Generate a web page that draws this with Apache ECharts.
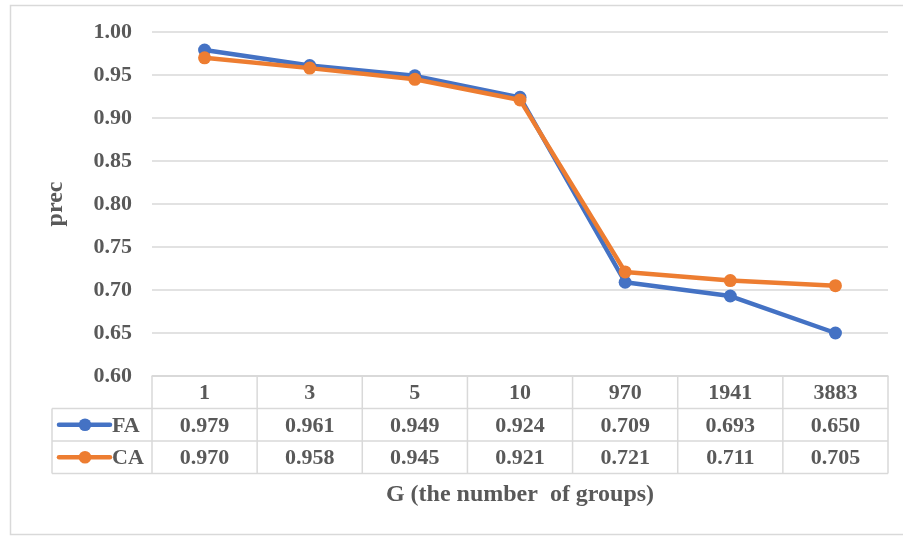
<!DOCTYPE html>
<html>
<head>
<meta charset="utf-8">
<script src="https://cdn.jsdelivr.net/npm/echarts@6/dist/echarts.min.js"></script>
<style>
  html, body { margin: 0; padding: 0; background: #ffffff; }
  #chart { width: 903px; height: 536px; }
</style>
</head>
<body>
<div id="chart"></div>
<script>
// Precision per number of groups G
const categories = ['1', '3', '5', '10', '970', '1941', '3883'];
const faValues = [0.979, 0.961, 0.949, 0.924, 0.709, 0.693, 0.650];
const caValues = [0.970, 0.958, 0.945, 0.921, 0.721, 0.711, 0.705];
const seriesNames = ['FA', 'CA'];
const seriesColors = ['#4472C4', '#ED7D31'];
const yMin = 0.60, yMax = 1.00, yStep = 0.05;

const FONT = '"Liberation Serif", "Times New Roman", serif';
const TEXT = '#595959';
const RULE = '#d9d9d9';

const chart = echarts.init(document.getElementById('chart'), null, { renderer: 'canvas' });

const gridBox = { left: 152, right: 15, top: 32, bottom: 160 };

chart.setOption({
  animation: false,
  backgroundColor: '#ffffff',
  grid: gridBox,
  xAxis: {
    type: 'category',
    data: categories,
    boundaryGap: true,
    axisLine: { show: true, lineStyle: { color: RULE, width: 1.5 } },
    axisTick: { show: false },
    axisLabel: { show: false },
    splitLine: { show: false }
  },
  yAxis: {
    type: 'value',
    min: yMin,
    max: yMax,
    interval: yStep,
    axisLine: { show: false },
    axisTick: { show: false },
    axisLabel: {
      margin: 20,
      formatter: v => v.toFixed(2),
      fontFamily: FONT, fontWeight: 'bold', fontSize: 22, color: TEXT
    },
    splitLine: { lineStyle: { color: RULE, width: 1.5 } }
  },
  series: [faValues, caValues].map((vals, i) => ({
    name: seriesNames[i],
    type: 'line',
    data: vals,
    symbol: 'circle',
    symbolSize: 13,
    lineStyle: { color: seriesColors[i], width: 4.5 },
    itemStyle: { color: seriesColors[i] },
    z: 2 + i
  }))
});

// Data table under the plot, aligned to the category bands
const x0 = chart.convertToPixel({ xAxisIndex: 0 }, 0);
const x1 = chart.convertToPixel({ xAxisIndex: 0 }, 1);
const band = x1 - x0;
const plotLeft = x0 - band / 2;
const plotRight = plotLeft + band * categories.length;
const tableTop = chart.convertToPixel({ yAxisIndex: 0 }, yMin);
const rowH = 32.5;
const keyLeft = 52;
const rows = [tableTop, tableTop + rowH, tableTop + rowH * 2, tableTop + rowH * 3];

const g = [];
const line = (xa, ya, xb, yb) => g.push({
  type: 'line', silent: true,
  shape: { x1: xa, y1: ya, x2: xb, y2: yb },
  style: { stroke: RULE, lineWidth: 1.5 }
});
const label = (x, y, text, align, size) => g.push({
  type: 'text', silent: true, x: x, y: y,
  style: {
    text: text, fill: TEXT, font: 'bold ' + (size || 22) + 'px ' + FONT,
    align: align || 'center', verticalAlign: 'middle'
  }
});

// outer chart frame
g.push({
  type: 'rect', silent: true,
  shape: { x: 10.5, y: 5.5, width: 910, height: 529 },
  style: { fill: 'none', stroke: RULE, lineWidth: 1.5 }
});

// horizontal rules
line(plotLeft, rows[0], plotRight, rows[0]);
line(keyLeft, rows[1], plotRight, rows[1]);
line(keyLeft, rows[2], plotRight, rows[2]);
line(keyLeft, rows[3], plotRight, rows[3]);
// vertical rules
line(keyLeft, rows[1], keyLeft, rows[3]);
for (let i = 0; i <= categories.length; i++) {
  line(plotLeft + band * i, rows[0], plotLeft + band * i, rows[3]);
}

// header row and value rows
categories.forEach((c, i) => {
  const cx = chart.convertToPixel({ xAxisIndex: 0 }, i);
  label(cx, (rows[0] + rows[1]) / 2 + 1.5, c);
  label(cx, (rows[1] + rows[2]) / 2 + 1.5, faValues[i].toFixed(3));
  label(cx, (rows[2] + rows[3]) / 2 + 1.5, caValues[i].toFixed(3));
});

// legend keys in the first column
[0, 1].forEach(i => {
  const cy = (rows[i + 1] + rows[i + 2]) / 2;
  g.push({
    type: 'line', silent: true,
    shape: { x1: 59, y1: cy, x2: 110, y2: cy },
    style: { stroke: seriesColors[i], lineWidth: 4.5, lineCap: 'round' }
  });
  g.push({
    type: 'circle', silent: true,
    shape: { cx: 85, cy: cy, r: 6.3 },
    style: { fill: seriesColors[i] }
  });
  label(112, cy + 1.5, seriesNames[i], 'left');
});

// axis titles
label((plotLeft + plotRight) / 2, 495, 'G (the number  of groups)', 'center', 24);
g.push({
  type: 'text', silent: true, x: 56, y: (rows[0] + gridBox.top) / 2,
  rotation: Math.PI / 2,
  style: {
    text: 'prec', fill: TEXT, font: 'bold 24px ' + FONT,
    align: 'center', verticalAlign: 'middle'
  }
});

chart.setOption({ graphic: g });
</script>
</body>
</html>
